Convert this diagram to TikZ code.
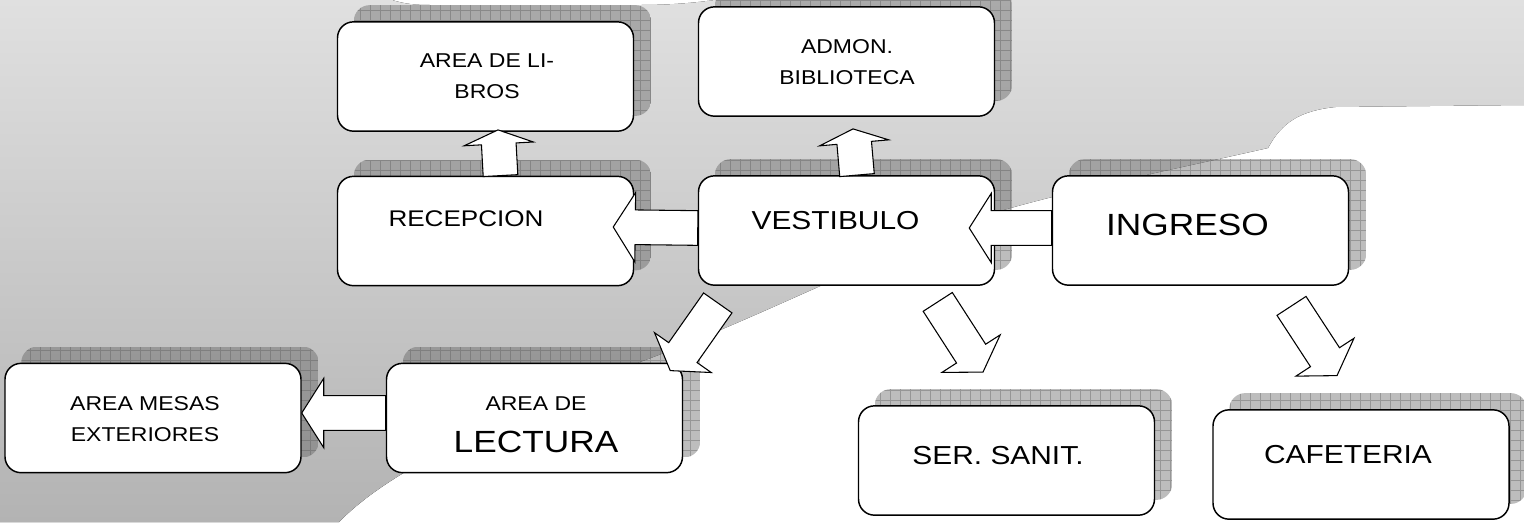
\documentclass[tikz,border=0pt]{standalone}
\usepackage{fontspec}
\setmainfont{Liberation Sans}[FakeStretch=1.15]
\usepackage{tikz}
\usetikzlibrary{calc,backgrounds}
\definecolor{FondoClaro}{HTML}{E0E0E0}
\definecolor{FondoOscuro}{HTML}{B3B3B3}
\definecolor{Sombra}{HTML}{5A5A5A}

% flecha de bloque: [largo de la punta]{cola}{punta}
\newcommand{\flecha}[3][16.5pt]{%
  \coordinate (fb) at ($(#3)!#1!(#2)$);
  \draw[bloque] ($(#2)!13pt!90:(#3)$) -- ($(fb)!13pt!-90:(#2)$)
    -- ($(fb)!26pt!-90:(#2)$) -- (#3) -- ($(fb)!26pt!90:(#2)$)
    -- ($(fb)!13pt!90:(#2)$) -- ($(#2)!13pt!-90:(#3)$) -- cycle;}

\begin{document}
\begin{tikzpicture}[
  x=0.75pt, y=-0.75pt,
  caja/.style={draw, line width=1.1pt, fill=white, rounded corners=12pt,
    minimum width=222pt, minimum height=82pt},
  bloque/.style={draw, fill=white, line width=0.8pt, line join=miter},
  chica/.style={font=\fontsize{15}{23.25}\selectfont, align=center},
  mediana/.style={font=\fontsize{19.5}{24}\selectfont},
  grande/.style={font=\fontsize{23}{28}\selectfont}
]
  \useasboundingbox (0,0) rectangle (1524,522);

  % Cajas (el texto va como etiqueta, algo corrido del centro)
  \node[caja, label={[chica, shift={(1.5,0)}]center:AREA DE LI-\\BROS}] (libros) at (485.5,76.5) {};
  \node[caja, label={[chica, shift={(0.5,1)}]center:ADMON.\\BIBLIOTECA}] (admon) at (846.5,61.5) {};
  \node[caja, label={[font=\fontsize{17}{20}\selectfont, shift={(-19.5,-12)}]center:RECEPCION}] (recep) at (485.5,231) {};
  \node[caja, label={[mediana, shift={(-11,-10)}]center:VESTIBULO}] (vest) at (846.5,230.5) {};
  \node[caja, label={[grande, shift={(-13,-6)}]center:INGRESO}] (ingreso) at (1200.5,230.5) {};
  \node[caja, label={[chica, shift={(-8,1.5)}]center:AREA MESAS\\EXTERIORES}] (mesas) at (153,418) {};
  \node[caja, label={[chica, shift={(1.5,6.5)}]center:AREA DE\\[8.5pt]{\fontsize{23}{28}\selectfont LECTURA}}] (lectura) at (534.5,418) {};
  \node[caja, label={[mediana, shift={(-8.5,-5)}]center:SER. SANIT.}] (sanit) at (1006.5,460.5) {};
  \node[caja, label={[mediana, shift={(-13,-10)}]center:CAFETERIA}] (cafe) at (1361,464.5) {};

  % Fondo gris y sombras cuadriculadas
  \begin{scope}[on background layer]
    \fill[top color=FondoClaro, bottom color=FondoOscuro]
      (0,0) -- (392,0) .. controls (405,4) and (415,5) .. (430,5) -- (640,5)
      .. controls (675,5) and (700,2) .. (715,0) -- (1524,0) -- (1524,105)
      -- (1335,107) .. controls (1300,111) and (1282,122) .. (1268,148)
      .. controls (1180,168) and (1080,188) .. (1000,211)
      .. controls (900,245) and (760,318) .. (640,362)
      .. controls (520,415) and (400,460) .. (339,522)
      -- (0,522) -- cycle;
    \foreach \c in {libros,admon,recep,vest,ingreso,mesas,lectura,sanit,cafe}{
      \begin{scope}
        \clip[rounded corners=12pt] ([shift={(17,-16)}]\c.south west) rectangle ([shift={(17,-16)}]\c.north east);
        \fill[Sombra,opacity=.4] ([shift={(17,-16)}]\c.south west) rectangle ([shift={(17,-16)}]\c.north east);
        \draw[Sombra,opacity=.4,line width=.4pt,step=7.5pt]
          ([shift={(17,-16)}]\c.south west) grid ([shift={(17,-16)}]\c.north east);
      \end{scope}
    }
  \end{scope}

  % Flechas de bloque
  \coordinate (vr-cola) at ([shift={(0,-2.5)}]vest.west);
  \coordinate (vr-punta) at ([shift={(-21,-4)}]recep.east);
  \coordinate (iv-cola) at ([shift={(0,-2.5)}]ingreso.west);
  \coordinate (iv-punta) at ([shift={(-26,-2.5)}]vest.east);
  \coordinate (lm-cola) at ([shift={(0,-5)}]lectura.west);
  \coordinate (lm-punta) at ([shift={(0,-5)}]mesas.east);
  \coordinate (rl-cola) at ([shift={(15,0)}]recep.north);
  \coordinate (rl-punta) at ([shift={(12.5,-2)}]libros.south);
  \coordinate (va-cola) at ([shift={(10.5,0)}]vest.north);
  \coordinate (va-punta) at ([shift={(6.5,12)}]admon.south);
  \coordinate (vl-cola) at ([shift={(20,17)}]vest.south west);
  \coordinate (vl-punta) at ([shift={(-13,8)}]lectura.north east);
  \coordinate (vs-cola) at ([shift={(-57.5,16)}]vest.south east);
  \coordinate (vs-punta) at ([shift={(-23.5,-33)}]sanit.north);
  \coordinate (ic-cola) at ([shift={(91,20)}]ingreso.south);
  \coordinate (ic-punta) at ([shift={(-24,-33.5)}]cafe.north);

  \flecha{vr-cola}{vr-punta}
  \flecha{iv-cola}{iv-punta}
  \flecha{lm-cola}{lm-punta}
  \flecha[10.5pt]{rl-cola}{rl-punta}
  \flecha[10.5pt]{va-cola}{va-punta}
  \flecha{vl-cola}{vl-punta}
  \flecha{vs-cola}{vs-punta}
  \flecha{ic-cola}{ic-punta}
\end{tikzpicture}
\end{document}
